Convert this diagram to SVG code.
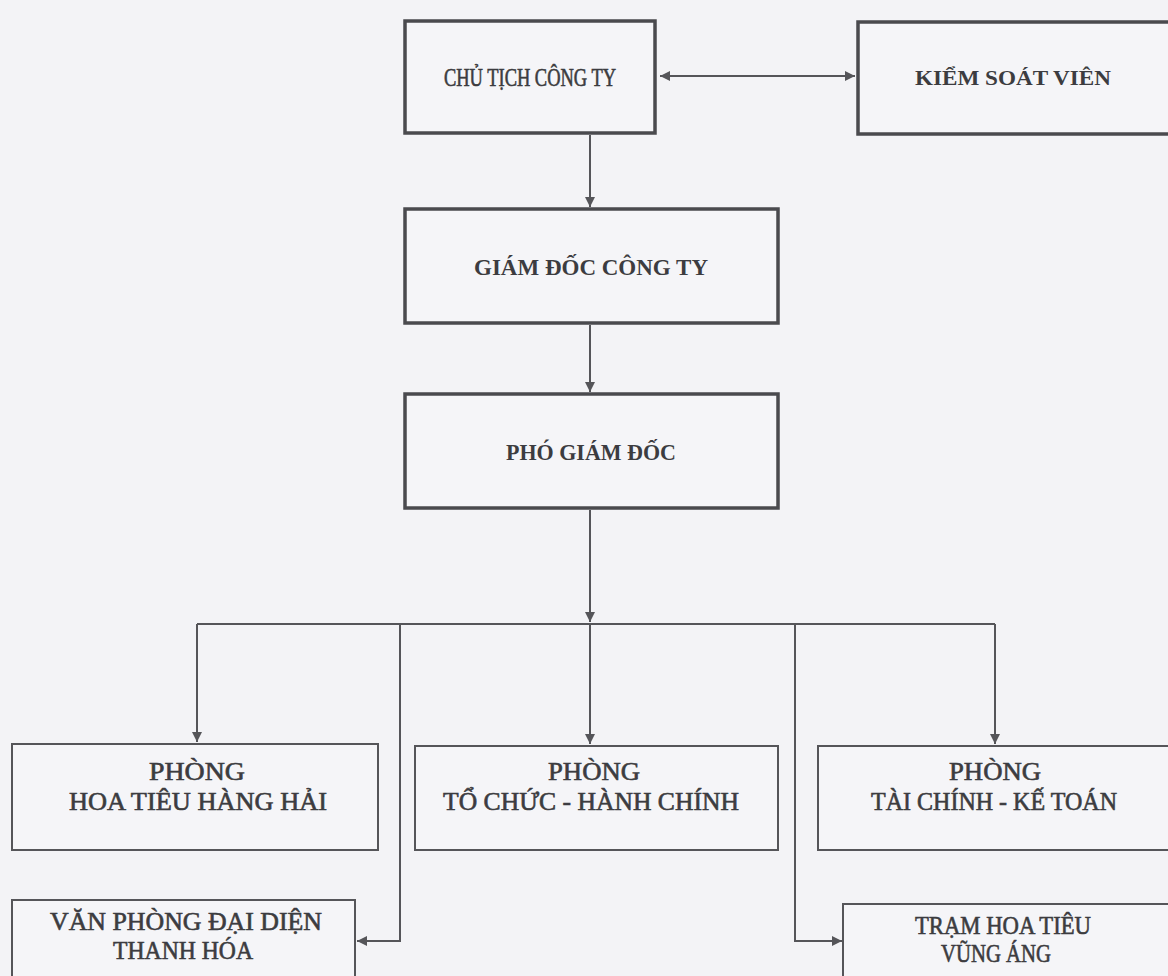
<svg xmlns="http://www.w3.org/2000/svg" width="1168" height="976" viewBox="0 0 1168 976">
<defs>
<style>
.bg{fill:#f3f3f6}
.box{fill:#f5f5f8;stroke:#4a4a4e;stroke-width:3.5}
.box2{fill:#f5f5f8;stroke:#555559;stroke-width:2}
.t{font-family:"Liberation Serif","Times New Roman",serif;font-size:22px;font-weight:bold;fill:#3c3c40;text-anchor:middle}
.r{font-weight:normal;stroke:#3c3c40;stroke-width:0.6}
.s{font-size:25px}
.c{fill:none;stroke:#555559;stroke-width:2}
</style>
<marker id="ah" viewBox="0 0 10 10" refX="10" refY="5" markerWidth="10" markerHeight="10" markerUnits="userSpaceOnUse" orient="auto-start-reverse">
<path d="M0,0 L10,5 L0,10 Z" fill="#555559"/>
</marker>
</defs>
<rect class="bg" x="0" y="0" width="1168" height="976"/>
<g id="connectors">
<line class="c" x1="660" y1="76" x2="855" y2="76" marker-start="url(#ah)" marker-end="url(#ah)"/>
<line class="c" x1="590" y1="135" x2="590" y2="207" marker-end="url(#ah)"/>
<line class="c" x1="590" y1="325" x2="590" y2="392" marker-end="url(#ah)"/>
<line class="c" x1="590" y1="510" x2="590" y2="622" marker-end="url(#ah)"/>
<line class="c" x1="197" y1="624" x2="995" y2="624"/>
<line class="c" x1="197" y1="624" x2="197" y2="742" marker-end="url(#ah)"/>
<line class="c" x1="590" y1="624" x2="590" y2="744" marker-end="url(#ah)"/>
<line class="c" x1="995" y1="624" x2="995" y2="744" marker-end="url(#ah)"/>
<polyline class="c" points="400,624 400,941 357,941" marker-end="url(#ah)"/>
<polyline class="c" points="795,624 795,941 842,941" marker-end="url(#ah)"/>
</g>
<g id="chu-tich">
<rect class="box" x="405" y="21" width="250" height="112"/>
<text class="t r s" x="530" y="86" textLength="172" lengthAdjust="spacingAndGlyphs">CHỦ TỊCH CÔNG TY</text>
</g>
<g id="kiem-soat">
<rect class="box" x="858" y="22" width="320" height="112"/>
<text class="t" x="1013" y="85" textLength="196" lengthAdjust="spacingAndGlyphs">KIỂM SOÁT VIÊN</text>
</g>
<g id="giam-doc">
<rect class="box" x="405" y="209" width="373" height="114"/>
<text class="t" x="591" y="275" style="font-size:23px" textLength="234" lengthAdjust="spacingAndGlyphs">GIÁM ĐỐC CÔNG TY</text>
</g>
<g id="pho-giam-doc">
<rect class="box" x="405" y="394" width="373" height="114"/>
<text class="t" x="591" y="460" style="font-size:23px" textLength="170" lengthAdjust="spacingAndGlyphs">PHÓ GIÁM ĐỐC</text>
</g>
<g id="hoa-tieu">
<rect class="box2" x="12" y="744" width="366" height="106"/>
<text class="t r s" x="197" y="780" textLength="96" lengthAdjust="spacingAndGlyphs">PHÒNG</text>
<text class="t r s" x="198" y="810" textLength="258" lengthAdjust="spacingAndGlyphs">HOA TIÊU HÀNG HẢI</text>
</g>
<g id="to-chuc">
<rect class="box2" x="415" y="746" width="363" height="104"/>
<text class="t r s" x="594" y="780" textLength="92" lengthAdjust="spacingAndGlyphs">PHÒNG</text>
<text class="t r s" x="591" y="810" textLength="296" lengthAdjust="spacingAndGlyphs">TỔ CHỨC - HÀNH CHÍNH</text>
</g>
<g id="tai-chinh">
<rect class="box2" x="818" y="746" width="360" height="104"/>
<text class="t r s" x="995" y="780" textLength="92" lengthAdjust="spacingAndGlyphs">PHÒNG</text>
<text class="t r s" x="994" y="810" textLength="246" lengthAdjust="spacingAndGlyphs">TÀI CHÍNH - KẾ TOÁN</text>
</g>
<g id="van-phong">
<rect class="box2" x="12" y="900" width="343" height="90"/>
<text class="t r s" x="186" y="930" textLength="272" lengthAdjust="spacingAndGlyphs">VĂN PHÒNG ĐẠI DIỆN</text>
<text class="t r s" x="183" y="959" textLength="140" lengthAdjust="spacingAndGlyphs">THANH HÓA</text>
</g>
<g id="tram">
<rect class="box2" x="843" y="904" width="335" height="86"/>
<text class="t r s" x="1003" y="934" textLength="176" lengthAdjust="spacingAndGlyphs">TRẠM HOA TIÊU</text>
<text class="t r s" x="996" y="962" textLength="110" lengthAdjust="spacingAndGlyphs">VŨNG ÁNG</text>
</g>
</svg>
